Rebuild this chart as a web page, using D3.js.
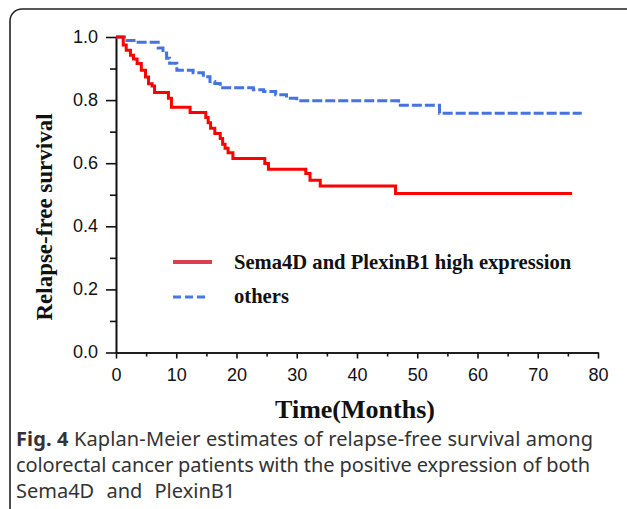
<!DOCTYPE html>
<html>
  <head>
    <meta charset="utf-8">
    <title></title>
    <script type="text/javascript" src="https://d3js.org/d3.v7.min.js"></script>
    <style media="screen">
      body { margin: 0; background: #fff; }
      .axis text { font-family: "Liberation Sans", Arial, sans-serif; font-size: 18px; fill: #111; }
      .axis path, .axis line { stroke: #111; stroke-width: 1.6; }
    </style>
  </head>
  <body>
    <div class="vis">
    </div>
    <script type="text/javascript">
      // Kaplan-Meier steps (time in months, survival after the step)
      var redTime = [0, 1.2, 1.7, 2.4, 2.9, 3.5, 4.2, 4.9, 5.4, 6.0, 6.4, 8.7, 9.2, 12.3, 14.9, 15.3, 15.7, 16.4, 17.3, 17.7, 18.1, 18.6, 19.4, 24.7, 25.3, 31.5, 32.2, 33.9, 46.4, 75.7];
      var redSurv = [1.0, 0.975, 0.958, 0.942, 0.930, 0.916, 0.895, 0.873, 0.852, 0.845, 0.824, 0.806, 0.777, 0.761, 0.745, 0.728, 0.711, 0.694, 0.678, 0.660, 0.647, 0.633, 0.615, 0.599, 0.581, 0.567, 0.546, 0.528, 0.504, 0.504];
      var blueTime = [0, 1.8, 3.4, 7.0, 7.8, 8.4, 8.9, 10.1, 12.8, 14.5, 15.6, 16.4, 17.3, 22.8, 24.5, 26.5, 28.3, 30.0, 46.9, 53.7, 77.3];
      var blueSurv = [1.0, 0.989, 0.983, 0.965, 0.949, 0.933, 0.917, 0.895, 0.887, 0.874, 0.859, 0.853, 0.839, 0.833, 0.827, 0.817, 0.806, 0.798, 0.784, 0.758, 0.758];
      var seriesNames = ["Sema4D and PlexinB1 high expression", "others"];
      var xTicks = [0, 10, 20, 30, 40, 50, 60, 70, 80];
      var xMinor = [5, 15, 25, 35, 45, 55, 65, 75];
      var yTicks = [0, 0.2, 0.4, 0.6, 0.8, 1.0];
      var yMinor = [0.1, 0.3, 0.5, 0.7, 0.9];
      var captionBold = "Fig. 4";
      var captionLines = [
        " Kaplan-Meier estimates of relapse-free survival among",
        "colorectal cancer patients with the positive expression of both",
        "Sema4D and PlexinB1"
      ];
      var captionWidths = [577, 574];

      var w = 627;
      var h = 509;

      var xscale = d3.scaleLinear().domain([0, 80]).range([116, 598]);
      var yscale = d3.scaleLinear().domain([0, 1]).range([352.5, 37]);

      var svg = d3.select('body')
        .append('svg')
        .attr('width', w)
        .attr('height', h);

      // rounded frame, cut by the right and bottom of the picture
      svg.append('rect')
        .attr('x', 10).attr('y', 9)
        .attr('width', 640).attr('height', 540)
        .attr('rx', 12)
        .attr('fill', 'none')
        .attr('stroke', '#222')
        .attr('stroke-width', 1.6);

      var yAxis = d3.axisLeft(yscale)
        .tickValues(yTicks)
        .tickFormat(d3.format('.1f'))
        .tickSize(10)
        .tickPadding(8)
        .tickSizeOuter(0);
      var yMinorAxis = d3.axisLeft(yscale)
        .tickValues(yMinor)
        .tickFormat('')
        .tickSize(6)
        .tickSizeOuter(0);
      var xAxis = d3.axisBottom(xscale)
        .tickValues(xTicks)
        .tickSize(6)
        .tickPadding(9)
        .tickSizeOuter(0);
      var xMinorAxis = d3.axisBottom(xscale)
        .tickValues(xMinor)
        .tickFormat('')
        .tickSize(4)
        .tickSizeOuter(0);

      svg.append('g').attr('class', 'axis y')
        .attr('transform', 'translate(116,0)')
        .call(yMinorAxis);
      svg.append('g').attr('class', 'axis y')
        .attr('transform', 'translate(116,0)')
        .call(yAxis);
      svg.append('g').attr('class', 'axis x')
        .attr('transform', 'translate(0,352.5)')
        .call(xMinorAxis);
      svg.append('g').attr('class', 'axis x')
        .attr('transform', 'translate(0,352.5)')
        .call(xAxis);
      svg.selectAll('.axis.y text').attr('dy', '0.3em');
      svg.selectAll('.axis.x text').attr('dy', '0.74em');

      var line = d3.line()
        .x(function(d) { return xscale(d[0]); })
        .y(function(d) { return yscale(d[1]); })
        .curve(d3.curveStepAfter);

      var blueData = blueTime.map(function(t, i) { return [t, blueSurv[i]]; });
      var redData = redTime.map(function(t, i) { return [t, redSurv[i]]; });

      svg.append('path')
        .datum(blueData)
        .attr('d', line)
        .attr('fill', 'none')
        .attr('stroke', '#4573e0')
        .attr('stroke-width', 3)
        .attr('stroke-dasharray', '10,3');
      svg.append('path')
        .datum(redData)
        .attr('d', line)
        .attr('fill', 'none')
        .attr('stroke', '#ff0000')
        .attr('stroke-width', 3);

      // legend
      var legend = svg.append('g').attr('class', 'legend');
      legend.append('line')
        .attr('x1', 173).attr('x2', 212)
        .attr('y1', 262).attr('y2', 262)
        .attr('stroke', '#d9404e')
        .attr('stroke-width', 4);
      legend.append('line')
        .attr('x1', 173).attr('x2', 208)
        .attr('y1', 297).attr('y2', 297)
        .attr('stroke', '#4a78e2')
        .attr('stroke-width', 3)
        .attr('stroke-dasharray', '8,4');
      legend.selectAll('text')
        .data(seriesNames)
        .enter()
        .append('text')
        .attr('x', 234)
        .attr('y', function(d, i) { return 268.5 + i * 34.5; })
        .attr('font-family', '"Liberation Serif", "Times New Roman", serif')
        .attr('font-weight', 'bold')
        .attr('font-size', 20.6)
        .attr('fill', '#111')
        .text(function(d) { return d; });

      // axis titles
      svg.append('text')
        .attr('transform', 'translate(52,217) rotate(-90)')
        .attr('text-anchor', 'middle')
        .attr('font-family', '"Liberation Serif", "Times New Roman", serif')
        .attr('font-weight', 'bold')
        .attr('font-size', 23)
        .attr('fill', '#111')
        .text('Relapse-free survival');
      svg.append('text')
        .attr('x', 355)
        .attr('y', 418)
        .attr('text-anchor', 'middle')
        .attr('font-family', '"Liberation Serif", "Times New Roman", serif')
        .attr('font-weight', 'bold')
        .attr('font-size', 26)
        .attr('fill', '#111')
        .text('Time(Months)');

      // caption
      var cap = svg.append('g')
        .attr('font-family', '"Noto Sans", "Open Sans", sans-serif')
        .attr('font-size', 20)
        .attr('fill', '#333');
      var first = cap.append('text').attr('x', 16).attr('y', 446)
        .attr('textLength', captionWidths[0]).attr('lengthAdjust', 'spacing');
      first.append('tspan').attr('font-weight', 'bold').text(captionBold);
      first.append('tspan').text(captionLines[0]);
      cap.append('text').attr('x', 16).attr('y', 472)
        .attr('textLength', captionWidths[1]).attr('lengthAdjust', 'spacing')
        .text(captionLines[1]);
      cap.append('text').attr('x', 16).attr('y', 498)
        .attr('word-spacing', 7)
        .text(captionLines[2]);
    </script>
  </body>
</html>
